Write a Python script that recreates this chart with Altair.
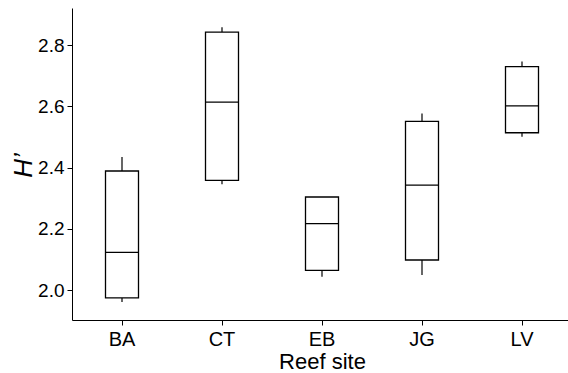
import altair as alt
import pandas as pd

sites = ["BA", "CT", "EB", "JG", "LV"]
whisker_low = [1.961, 2.346, 2.043, 2.049, 2.501]
q1 = [1.974, 2.358, 2.064, 2.098, 2.514]
median = [2.123, 2.614, 2.217, 2.343, 2.602]
q3 = [2.389, 2.843, 2.304, 2.551, 2.730]
whisker_high = [2.435, 2.859, 2.304, 2.577, 2.747]
y_ticks = [2.0, 2.2, 2.4, 2.6, 2.8]

df = pd.DataFrame({
    "site": sites, "lo": whisker_low, "q1": q1, "med": median,
    "q3": q3, "hi": whisker_high,
})

FONT = "Liberation Sans"

x_enc = alt.X(
    "site:N",
    sort=sites,
    scale=alt.Scale(range=[0, 500], paddingInner=0, paddingOuter=0),
    axis=alt.Axis(
        title="Reef site", labelAngle=0, labelFontSize=20, titleFontSize=22,
        tickSize=5, labelPadding=4, titlePadding=2, domainColor="black",
        tickColor="black", labelColor="black", titleColor="black",
        labelFont=FONT, titleFont=FONT, titleFontWeight="normal",
    ),
)
y_scale = alt.Scale(domain=[1.902, 2.9216], nice=False, zero=False)
y_axis = alt.Axis(
    title="H\u2019", values=y_ticks, format=".1f", labelFontSize=19,
    titleFontSize=26, titleFontStyle="italic", titleFontWeight="normal",
    tickSize=5, labelPadding=3, domainColor="black", tickColor="black",
    labelColor="black", titleColor="black", grid=False,
    labelFont=FONT, titleFont=FONT, titleX=-49, titleY=157,
    titleAngle=270, titleAlign="center", titleBaseline="middle",
)

base = alt.Chart(df)

whiskers = base.mark_rule(color="black", strokeWidth=1.2).encode(
    x=x_enc,
    y=alt.Y("lo:Q", scale=y_scale, axis=y_axis),
    y2="hi:Q",
)
boxes = base.mark_bar(fill="white", stroke="black", strokeWidth=1.3, size=33).encode(
    x=x_enc,
    y=alt.Y("q1:Q", scale=y_scale, axis=y_axis),
    y2="q3:Q",
)
medians = base.mark_tick(color="black", size=33, thickness=1.3, opacity=1).encode(
    x=x_enc,
    y=alt.Y("med:Q", scale=y_scale, axis=y_axis),
)

chart = alt.layer(whiskers, boxes, medians).properties(
    width=496,
    height=312,
    autosize=alt.AutoSizeParams(type="none"),
    padding={"left": 72, "top": 8, "right": 0, "bottom": 53},
    background="white",
).configure_view(stroke=None)

chart.save("out.html", embed_options={"renderer": "svg", "actions": False})
